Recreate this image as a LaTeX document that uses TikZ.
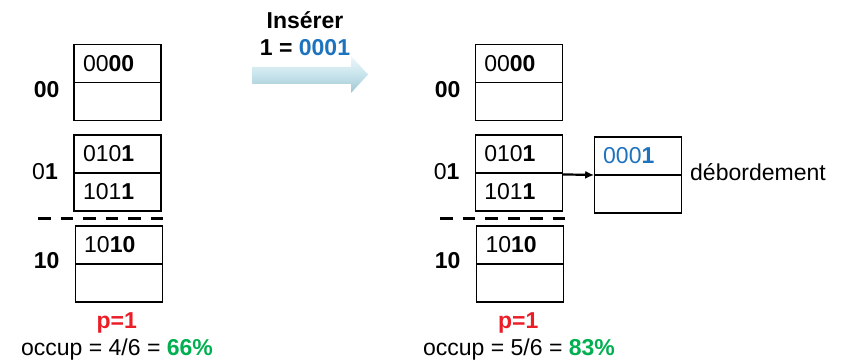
\documentclass[tikz,border=0pt]{standalone}
\usepackage{fontspec}
\setmainfont{Liberation Sans}
\usetikzlibrary{positioning,arrows.meta}
\definecolor{keyblue}{RGB}{30,115,190}
\definecolor{pcred}{RGB}{235,30,40}
\definecolor{pcgreen}{RGB}{0,175,80}
\tikzset{
	every node/.style={font=\fontsize{23}{27}\selectfont},
	slot/.style={draw, line width=1.2pt, outer sep=0pt, inner xsep=9pt, inner ysep=0pt,
		text width=69pt, minimum height=38pt, align=left},
	bucketlabel/.style={inner sep=0pt},
	cut/.style={line width=3.2pt, dash pattern=on 12.5pt off 10pt},
}
\begin{document}
	\begin{tikzpicture}[x=1pt,y=-1pt]
		\useasboundingbox (0,0) rectangle (849,361);
		\shade[top color={rgb,255:red,238;green,247;blue,250}, bottom color={rgb,255:red,160;green,198;blue,210}, middle color={rgb,255:red,200;green,228;blue,236}]
			(252,67) -- (351,67) -- (351,56) -- (368,74.5) -- (351,93) -- (351,84) -- (252,84) -- cycle;
		\node[align=center] (insert) at (305,33.5) {\textbf{Insérer}\\\textbf{1 = \textcolor{keyblue}{0001}}};
		\node[slot] (l00a) at (117.5,63.3) {00\textbf{00}};
		\node[slot, below=0pt of l00a] (l00b) {};
		\node[slot] (l01a) at (117.5,153.9) {010\textbf{1}};
		\node[slot, below=0pt of l01a] (l01b) {101\textbf{1}};
		\node[slot] (l10a) at (118.7,245) {10\textbf{10}};
		\node[slot, below=0pt of l10a] (l10b) {};
		\node[bucketlabel] (lab00) at (46.7,90) {\textbf{00}};
		\node[bucketlabel] (lab01) at (45,171.7) {0\textbf{1}};
		\node[bucketlabel] (lab10) at (46.7,261) {\textbf{10}};
		\coordinate (lcuta) at (38,218.3);
		\coordinate (lcutb) at (163,218.3);
		\draw[cut] (lcuta) -- (lcutb);
		\node (lp) at (116.7,323) {\textbf{\textcolor{pcred}{p=1}}};
		\node (locc) at (117,350) {occup = 4/6 = \textbf{\textcolor{pcgreen}{66\%}}};
		\node[slot] (r00a) at (518.8,63.3) {00\textbf{00}};
		\node[slot, below=0pt of r00a] (r00b) {};
		\node[slot] (r01a) at (518.8,153.9) {010\textbf{1}};
		\node[slot, below=0pt of r01a] (r01b) {101\textbf{1}};
		\node[slot] (r10a) at (520,245) {10\textbf{10}};
		\node[slot, below=0pt of r10a] (r10b) {};
		\node[bucketlabel] (rab00) at (447.7,90) {\textbf{00}};
		\node[bucketlabel] (rab01) at (446.7,171.7) {0\textbf{1}};
		\node[bucketlabel] (rab10) at (447.7,261) {\textbf{10}};
		\coordinate (rcuta) at (440,218.3);
		\coordinate (rcutb) at (565,218.3);
		\draw[cut] (rcuta) -- (rcutb);
		\node[slot] (ovfa) at (637.7,156) {\textcolor{keyblue}{000\textbf{1}}};
		\node[slot, below=0pt of ovfa] (ovfb) {};
		\node[anchor=west, inner sep=0pt] (ovflab) at (690,172) {débordement};
		\draw[line width=2.2pt, -{Latex[length=9pt,width=8pt]}] ([yshift=-1.5pt]r01a.south east) -- (ovfa.south west);
		\node (rp) at (518.3,323) {\textbf{\textcolor{pcred}{p=1}}};
		\node (rocc) at (519,350) {occup = 5/6 = \textbf{\textcolor{pcgreen}{83\%}}};
	\end{tikzpicture}
\end{document}
